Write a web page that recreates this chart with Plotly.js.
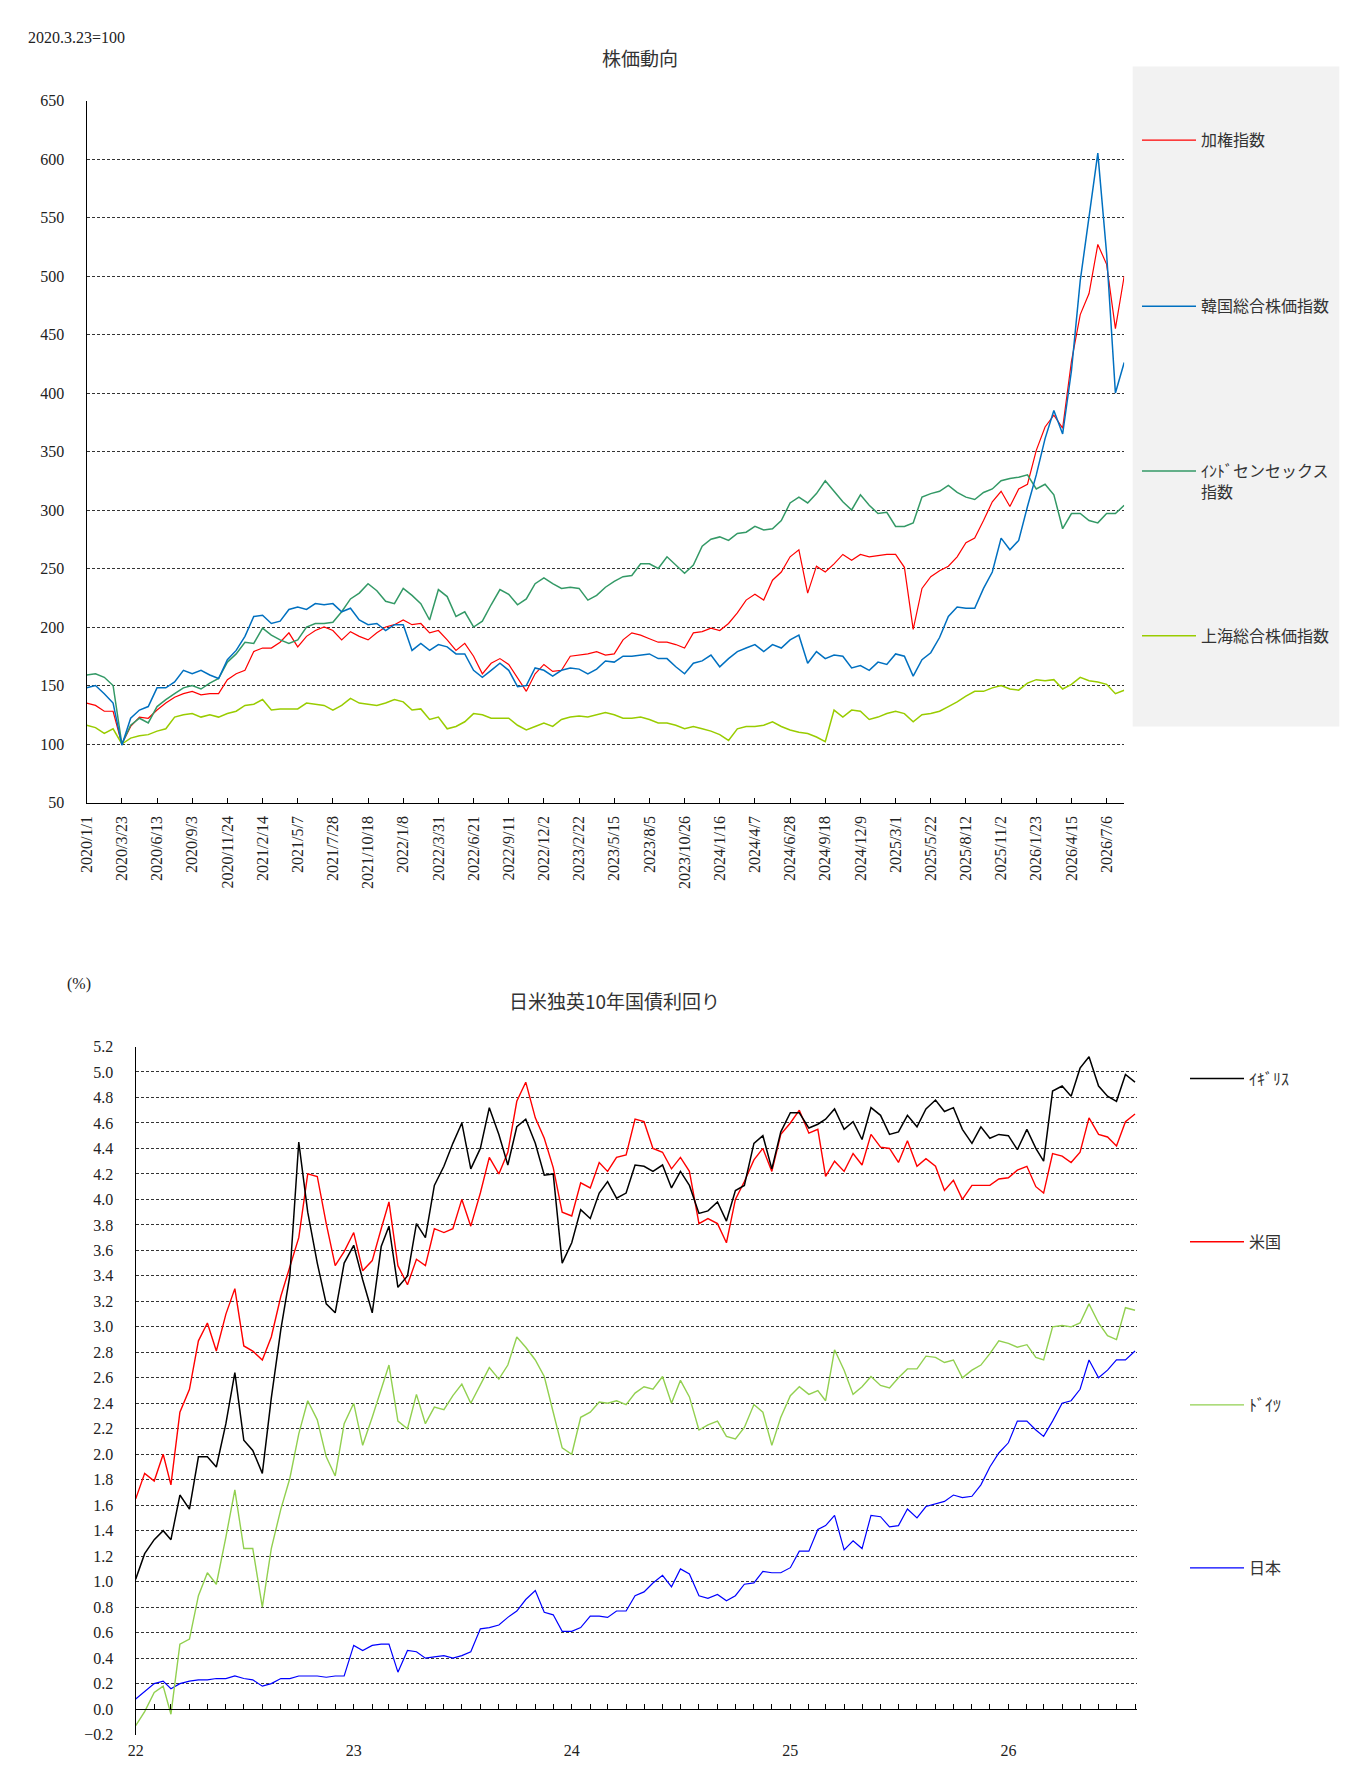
<!DOCTYPE html>
<html>
<head>
<meta charset="utf-8">
<script src="https://cdn.plot.ly/plotly-3.0.1.min.js"></script>
<style>
  html, body { margin: 0; padding: 0; background: #ffffff; }
  #chart { width: 1353px; height: 1791px; }
</style>
</head>
<body>
<div id="chart"></div>
<script>
// ---------- Top chart: 株価動向 (2020.3.23=100), samples every 20.5 days from 2020/1/1 ----------
const TOP_START = '2020-01-01';
const TOP_STEP_DAYS = 20.5;
const TOP_TICK_LABELS = ['2020/1/1','2020/3/23','2020/6/13','2020/9/3','2020/11/24','2021/2/14','2021/5/7','2021/7/28',
  '2021/10/18','2022/1/8','2022/3/31','2022/6/21','2022/9/11','2022/12/2','2023/2/22','2023/5/15','2023/8/5',
  '2023/10/26','2024/1/16','2024/4/7','2024/6/28','2024/9/18','2024/12/9','2025/3/1','2025/5/22','2025/8/12',
  '2025/11/2','2026/1/23','2026/4/15','2026/7/6'];
const TOP_SERIES_NAMES = ['加権指数','韓国総合株価指数','ｲﾝﾄﾞセンセックス<br>指数','上海総合株価指数'];

const TAIEX = [135,133,128,128,100,115,123,122,129,135,140,143,145,142,143,143,155,160,163,179,182,182,187,195,183,192,197,200,197,189,196,192,189,195,200,202,206,202,203,195,197,189,180,186,175,160,169,173,
  168,156,145,160,168,162,163,175,176,177,179,176,177,189,195,193,190,187,187,185,182,195,196,199,197,203,212,223,228,223,240,247,260,266,229,252,247,254,262,257,262,260,261,262,262,
  251,198,233,243,248,252,260,272,276,291,307,316,303,318,322,351,371,381,370,427,467,485,527,510,455,500];
const KOSPI = [148,150,143,135,99,122,129,132,148,148,153,163,160,163,159,156,172,180,192,209,210,203,205,215,217,215,220,219,220,213,216,206,202,203,197,202,202,180,186,180,185,183,177,177,163,157,163,169,
  163,149,150,165,163,158,163,165,164,160,164,171,170,175,175,176,177,173,173,166,160,169,171,176,166,173,179,182,185,179,185,182,189,193,169,179,173,176,175,165,167,163,170,168,177,
  175,158,172,178,191,209,217,216,216,233,247,276,266,274,303,330,361,385,365,419,496,550,605,519,400,426];
const SENSEX = [159,160,157,150,100,116,122,118,132,138,143,148,150,147,152,156,170,177,187,186,199,193,189,186,189,200,203,203,204,213,224,229,237,231,222,220,233,227,220,206,232,226,209,213,200,205,219,232,
  228,219,224,237,242,237,233,234,233,223,227,234,239,243,244,254,254,250,260,253,246,253,269,275,277,274,280,281,286,283,284,291,306,311,306,314,325,316,307,300,313,304,297,298,286,
  286,289,311,314,316,321,315,311,309,315,318,325,327,328,330,318,322,313,284,297,297,291,289,297,297,304];
const SHANGHAI = [116,114,109,113,100,105,107,108,111,113,123,125,126,123,125,123,126,128,133,134,138,129,130,130,130,135,134,133,129,133,139,135,134,133,135,138,136,129,130,121,123,113,115,119,126,125,122,122,
  122,116,112,115,118,115,121,123,124,123,125,127,125,122,122,123,121,118,118,116,113,115,113,111,108,103,113,115,115,116,119,115,112,110,109,106,102,129,123,129,128,121,123,126,128,
  126,119,125,126,128,132,136,141,145,145,148,150,147,146,152,155,154,155,147,151,157,154,153,151,143,146];

// ---------- Bottom chart: 日米独英10年国債利回り (%), samples on the 1st and 16th of each month from 2022/1/1 ----------
const BOTTOM_TICK_LABELS = ['22','23','24','25','26'];
const BOTTOM_SERIES_NAMES = ['ｲｷﾞﾘｽ','米国','ﾄﾞｲﾂ','日本'];

const UK = [1.02,1.22,1.33,1.40,1.33,1.68,1.57,1.98,1.98,1.90,2.24,2.64,2.11,2.03,1.85,2.44,2.98,3.40,4.45,3.90,3.50,3.18,3.11,3.50,3.64,3.37,3.11,3.63,3.79,3.31,3.40,3.81,3.70,4.11,4.26,4.44,4.60,
  4.24,4.40,4.72,4.51,4.27,4.57,4.63,4.44,4.19,4.20,3.50,3.66,3.92,3.85,4.05,4.14,4.01,4.05,4.27,4.26,4.22,4.27,4.09,4.22,4.11,3.89,3.91,3.98,3.83,4.07,4.11,4.44,4.50,4.24,4.53,4.68,4.68,4.56,
  4.59,4.63,4.71,4.55,4.61,4.47,4.72,4.66,4.51,4.53,4.66,4.57,4.71,4.78,4.69,4.72,4.55,4.44,4.57,4.48,4.51,4.50,4.39,4.55,4.40,4.30,4.85,4.89,4.81,5.03,5.12,4.89,4.81,4.77,4.98,4.92];
const US = [1.65,1.85,1.79,2.00,1.76,2.33,2.51,2.89,3.03,2.81,3.10,3.30,2.85,2.81,2.74,2.92,3.24,3.48,3.70,4.20,4.18,3.81,3.48,3.59,3.74,3.44,3.52,3.77,3.98,3.48,3.33,3.53,3.48,3.77,3.74,3.77,4.00,
  3.79,4.05,4.33,4.20,4.37,4.77,4.92,4.64,4.48,4.25,3.90,3.87,4.13,4.09,4.29,4.22,4.33,4.35,4.63,4.61,4.40,4.37,4.24,4.33,4.22,3.81,3.85,3.81,3.66,4.00,4.14,4.31,4.40,4.22,4.51,4.60,4.70,4.52,
  4.55,4.18,4.30,4.22,4.36,4.27,4.51,4.41,4.40,4.29,4.46,4.26,4.32,4.26,4.07,4.15,4.00,4.11,4.11,4.11,4.16,4.17,4.23,4.26,4.10,4.05,4.36,4.34,4.29,4.37,4.64,4.51,4.49,4.42,4.61,4.67];
const GERMANY = [-0.13,-0.02,0.13,0.18,-0.04,0.51,0.55,0.89,1.07,0.98,1.35,1.72,1.26,1.26,0.80,1.26,1.57,1.81,2.16,2.42,2.27,1.98,1.83,2.24,2.40,2.07,2.29,2.51,2.70,2.26,2.20,2.47,2.24,2.37,2.35,2.46,2.55,
  2.40,2.55,2.68,2.59,2.70,2.92,2.84,2.74,2.61,2.33,2.05,2.00,2.29,2.33,2.41,2.40,2.42,2.39,2.48,2.53,2.51,2.61,2.40,2.58,2.45,2.19,2.23,2.26,2.14,2.12,2.21,2.39,2.33,2.07,2.29,2.46,2.53,2.47,
  2.50,2.42,2.82,2.66,2.47,2.53,2.61,2.54,2.52,2.60,2.67,2.67,2.77,2.76,2.72,2.74,2.60,2.66,2.70,2.79,2.89,2.87,2.84,2.86,2.76,2.74,3.00,3.01,3.00,3.03,3.18,3.03,2.93,2.90,3.15,3.13];
const JAPAN = [0.08,0.14,0.20,0.22,0.16,0.20,0.22,0.23,0.23,0.24,0.24,0.26,0.24,0.23,0.18,0.20,0.24,0.24,0.26,0.26,0.26,0.25,0.26,0.26,0.50,0.46,0.50,0.51,0.51,0.29,0.46,0.45,0.40,0.41,0.42,0.40,0.42,
  0.45,0.63,0.64,0.66,0.72,0.77,0.86,0.93,0.76,0.74,0.61,0.61,0.64,0.73,0.73,0.72,0.77,0.77,0.89,0.92,0.99,1.05,0.96,1.10,1.06,0.89,0.87,0.90,0.85,0.89,0.98,0.99,1.08,1.07,1.07,1.11,1.24,1.24,
  1.41,1.44,1.52,1.25,1.32,1.26,1.52,1.51,1.43,1.44,1.57,1.50,1.59,1.61,1.63,1.68,1.66,1.67,1.76,1.90,2.01,2.09,2.26,2.26,2.19,2.14,2.26,2.40,2.42,2.51,2.74,2.60,2.66,2.74,2.74,2.81];

// ---------- helpers ----------
const DAY_MS = 86400000;
const W = 1353, H = 1791;
const fx = p => p / W;
const fy = p => 1 - p / H;
function msToStr(ms) { return new Date(ms).toISOString().slice(0, 16).replace('T', ' '); }
function slashToIso(s) {
  const [y, m, d] = s.split('/');
  return y + '-' + m.padStart(2, '0') + '-' + d.padStart(2, '0');
}
function halfMonthDate(k) {
  const m = Math.floor(k / 2);
  const y = 2022 + Math.floor(m / 12);
  const mo = (m % 12) + 1;
  const d = (k % 2) ? 16 : 1;
  return y + '-' + String(mo).padStart(2, '0') + '-' + String(d).padStart(2, '0');
}

const topStartMs = Date.parse(TOP_START + 'T00:00:00Z');
const TOP_X = TAIEX.map((_, k) => msToStr(topStartMs + k * TOP_STEP_DAYS * DAY_MS));
const BOTTOM_X = UK.map((_, k) => halfMonthDate(k));

const NUM_FONT = { family: 'Liberation Serif, DejaVu Serif, serif', size: 16, color: '#222' };
const JP_FONT = 'Noto Sans CJK JP, Noto Sans, sans-serif';

function line(x, y, name, color, xa, ya, leg, width) {
  return { x: x, y: y, type: 'scatter', mode: 'lines', name: name,
           line: { color: color, width: width || 1.4 }, xaxis: xa, yaxis: ya, legend: leg,
           hoverinfo: 'skip' };
}

const traces = [
  line(TOP_X, TAIEX, TOP_SERIES_NAMES[0], '#ff0000', 'x', 'y', 'legend', 1.2),
  line(TOP_X, SENSEX, TOP_SERIES_NAMES[2], '#339966', 'x', 'y', 'legend3', 1.5),
  line(TOP_X, SHANGHAI, TOP_SERIES_NAMES[3], '#99cc00', 'x', 'y', 'legend4', 1.5),
  line(TOP_X, KOSPI, TOP_SERIES_NAMES[1], '#0070c0', 'x', 'y', 'legend2', 1.5),
  line(BOTTOM_X, JAPAN, BOTTOM_SERIES_NAMES[3], '#0000ff', 'x2', 'y2', 'legend8', 1.2),
  line(BOTTOM_X, GERMANY, BOTTOM_SERIES_NAMES[2], '#92d050', 'x2', 'y2', 'legend7', 1.4),
  line(BOTTOM_X, US, BOTTOM_SERIES_NAMES[1], '#ff0000', 'x2', 'y2', 'legend6', 1.4),
  line(BOTTOM_X, UK, BOTTOM_SERIES_NAMES[0], '#000000', 'x3', 'y2', 'legend5', 1.5)
];

const topRangeEnd = msToStr(topStartMs + 2419 * DAY_MS);
const bottomRange = ['2022-01-01', '2026-08-04'];

function legendAt(xPx, yPx, extra) {
  return Object.assign({
    x: fx(xPx), y: fy(yPx), xanchor: 'left', yanchor: 'middle',
    bgcolor: 'rgba(0,0,0,0)', borderwidth: 0, itemwidth: 54,
    font: { family: JP_FONT, size: 16, color: '#333' }
  }, extra || {});
}

const gridStyle = { showgrid: true, gridcolor: '#333', griddash: '3px,2px', gridwidth: 1 };

const layout = {
  width: W, height: H,
  margin: { l: 0, r: 0, t: 0, b: 0 },
  paper_bgcolor: '#ffffff', plot_bgcolor: 'rgba(0,0,0,0)',
  showlegend: true,
  font: NUM_FONT,
  xaxis: {
    type: 'date', domain: [fx(86.7), fx(1124.2)], anchor: 'y',
    range: [TOP_START, topRangeEnd],
    tickmode: 'array', tickvals: TOP_TICK_LABELS.map(slashToIso), ticktext: TOP_TICK_LABELS,
    tickangle: -90, ticks: 'inside', ticklen: 5, tickcolor: '#000',
    showline: true, linecolor: '#000', linewidth: 1.2, showgrid: false, zeroline: false,
    tickfont: NUM_FONT, ticklabelstandoff: 6
  },
  yaxis: Object.assign({
    domain: [fy(802.5), fy(100.5)], anchor: 'x', range: [50, 650], dtick: 50, tick0: 50,
    showline: true, linecolor: '#000', linewidth: 1.2, ticks: '', zeroline: false,
    tickfont: NUM_FONT, ticklabelstandoff: 18
  }, gridStyle),
  xaxis2: {
    type: 'date', domain: [fx(135.7), fx(1136.8)], anchor: 'y2', range: bottomRange,
    tickmode: 'array', tickvals: BOTTOM_TICK_LABELS.map(s => '20' + s + '-01-01'), ticktext: BOTTOM_TICK_LABELS,
    ticks: '', showline: false, showgrid: false, zeroline: false,
    tickfont: NUM_FONT, ticklabelstandoff: 4
  },
  xaxis3: {
    type: 'date', overlaying: 'x2', anchor: 'free', position: fy(1709.1), range: bottomRange,
    tick0: '2022-01-01', dtick: 'M1', ticks: 'inside', ticklen: 5, tickcolor: '#000',
    showticklabels: false, showline: true, linecolor: '#000', linewidth: 1.2,
    showgrid: false, zeroline: false
  },
  yaxis2: Object.assign({
    domain: [fy(1734.6), fy(1046.5)], anchor: 'x2', range: [-0.2, 5.2], dtick: 0.2, tick0: 0,
    tickformat: '.1f', showline: true, linecolor: '#000', linewidth: 1.2, ticks: '', zeroline: false,
    tickfont: NUM_FONT, ticklabelstandoff: 18
  }, gridStyle),
  legend: legendAt(1137, 140.2),
  legend2: legendAt(1137, 306.3),
  legend3: legendAt(1137, 481.7, { valign: 'top' }),
  legend4: legendAt(1137, 635.9),
  legend5: legendAt(1185, 1078.6),
  legend6: legendAt(1185, 1241.8),
  legend7: legendAt(1185, 1405),
  legend8: legendAt(1185, 1567.9),
  shapes: [
    { type: 'rect', xref: 'paper', yref: 'paper', layer: 'below',
      x0: fx(1132.7), x1: fx(1339.3), y0: fy(726.5), y1: fy(66.5),
      fillcolor: '#f2f2f2', line: { width: 0 } }
  ],
  annotations: [
    { text: '2020.3.23=100', xref: 'paper', yref: 'paper', x: fx(26), y: fy(37.7),
      xanchor: 'left', yanchor: 'middle', showarrow: false,
      font: { family: 'Liberation Serif, serif', size: 16, color: '#222' } },
    { text: '株価動向', xref: 'paper', yref: 'paper', x: fx(640), y: fy(58),
      xanchor: 'center', yanchor: 'middle', showarrow: false,
      font: { family: JP_FONT, size: 19, color: '#333' } },
    { text: '(%)', xref: 'paper', yref: 'paper', x: fx(79), y: fy(984),
      xanchor: 'center', yanchor: 'middle', showarrow: false,
      font: { family: 'Liberation Serif, serif', size: 16, color: '#222' } },
    { text: '日米独英10年国債利回り', xref: 'paper', yref: 'paper', x: fx(614), y: fy(1000),
      xanchor: 'center', yanchor: 'middle', showarrow: false,
      font: { family: JP_FONT, size: 19, color: '#333' } }
  ]
};

Plotly.newPlot('chart', traces, layout, { displayModeBar: false, staticPlot: true });
</script>
</body>
</html>
